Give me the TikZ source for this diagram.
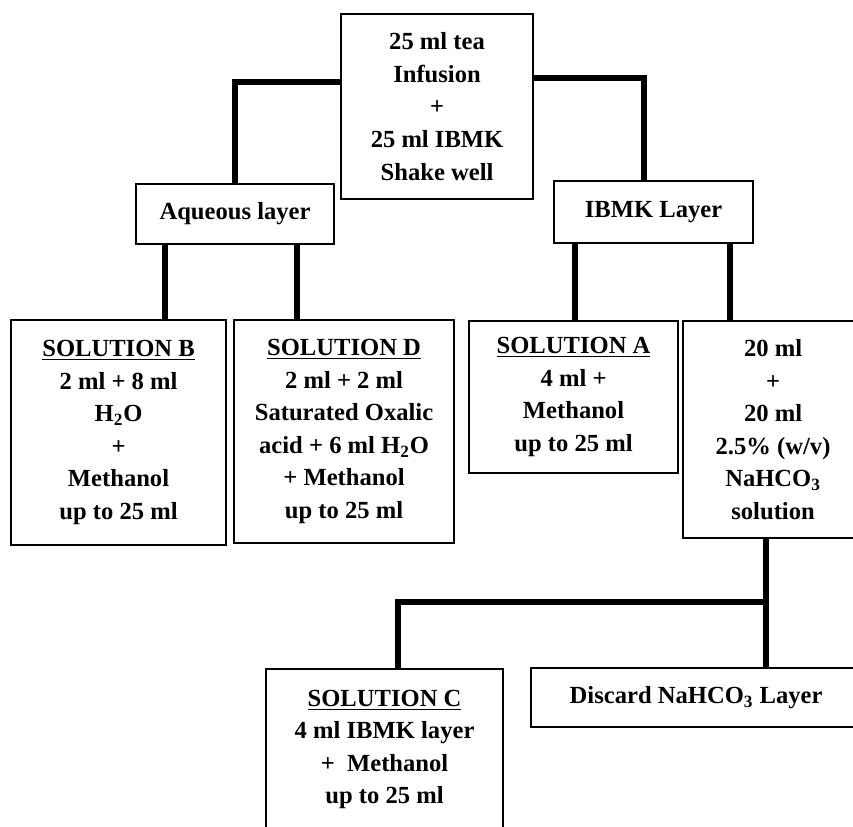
\documentclass[tikz,border=0pt]{standalone}
\usepackage{fontspec}
\setmainfont{Liberation Serif}
\usetikzlibrary{positioning,calc}

\tikzset{
  box/.style={draw, line width=1.2pt, anchor=north west, align=center, inner sep=0pt,
    font=\fontsize{14}{18.5}\selectfont\bfseries},
  link/.style={line width=3.4pt}
}

\begin{document}
\begin{tikzpicture}[x=0.2mm, y=-0.2mm]
  \useasboundingbox (0,0) rectangle (853,826);
  \clip (0,0) rectangle (853,826);
  % extraction
  \node[box, minimum width=38.4mm, minimum height=37mm] (top) at (340,13) {25 ml tea\\Infusion\\+\\25 ml IBMK\\Shake well};
  \node[box, minimum width=39.6mm, minimum height=12mm] (aq) at (135,183) {Aqueous layer};
  \node[box, minimum width=39.8mm, minimum height=12.4mm] (ibmk) at (553,180) {IBMK Layer};
  % solutions
  \node[box, minimum width=43mm, minimum height=45mm] (sb) at (10,319) {\underline{SOLUTION B}\\2 ml + 8 ml\\H\textsubscript{2}O\\+\\Methanol\\up to 25 ml};
  \node[box, minimum width=44mm, minimum height=44.6mm] (sd) at (233,319) {\underline{SOLUTION D}\\2 ml + 2 ml\\Saturated Oxalic\\acid + 6 ml H\textsubscript{2}O\\+ Methanol\\up to 25 ml};
  \node[box, minimum width=41.8mm, minimum height=30.4mm] (sa) at (468,320) {\underline{SOLUTION A}\\4 ml +\\Methanol\\up to 25 ml};
  \node[box, minimum width=36mm, minimum height=43.4mm] (rsol) at (682,320) {20 ml\\+\\20 ml\\2.5\% (w/v)\\NaHCO\textsubscript{3}\\solution};
  \node[box, minimum width=47.4mm, minimum height=40mm] (sc) at (265,668) {\underline{SOLUTION C}\\4 ml IBMK layer\\+\ \ Methanol\\up to 25 ml\rule[-8.8mm]{0pt}{0pt}};
  \node[box, minimum width=66mm, minimum height=11.8mm] (disc) at (530,667) {Discard NaHCO\textsubscript{3} Layer};

  \draw[link] ($(top.north west)+(0,69)$) -| (aq.north);
  \draw[link] ($(top.north east)+(0,65)$) -| ($(ibmk.north)+(-10,0)$);
  \draw[link] ($(aq.south west)+(30,0)$) coordinate (aqb) -- (aqb |- sb.north);
  \draw[link] ($(aq.south east)+(-38,0)$) coordinate (aqd) -- (aqd |- sd.north);
  \draw[link] ($(ibmk.south west)+(22,0)$) coordinate (iba) -- (iba |- sa.north);
  \draw[link] ($(ibmk.south east)+(-24,0)$) coordinate (ibr) -- (ibr |- rsol.north);
  \draw[link] ($(rsol.south west)+(84,0)$) coordinate (rb) -- (rb |- disc.north);
  \draw[link] ($(rb)+(0,63)$) -| ($(sc.north)+(13.5,0)$);
\end{tikzpicture}
\end{document}
